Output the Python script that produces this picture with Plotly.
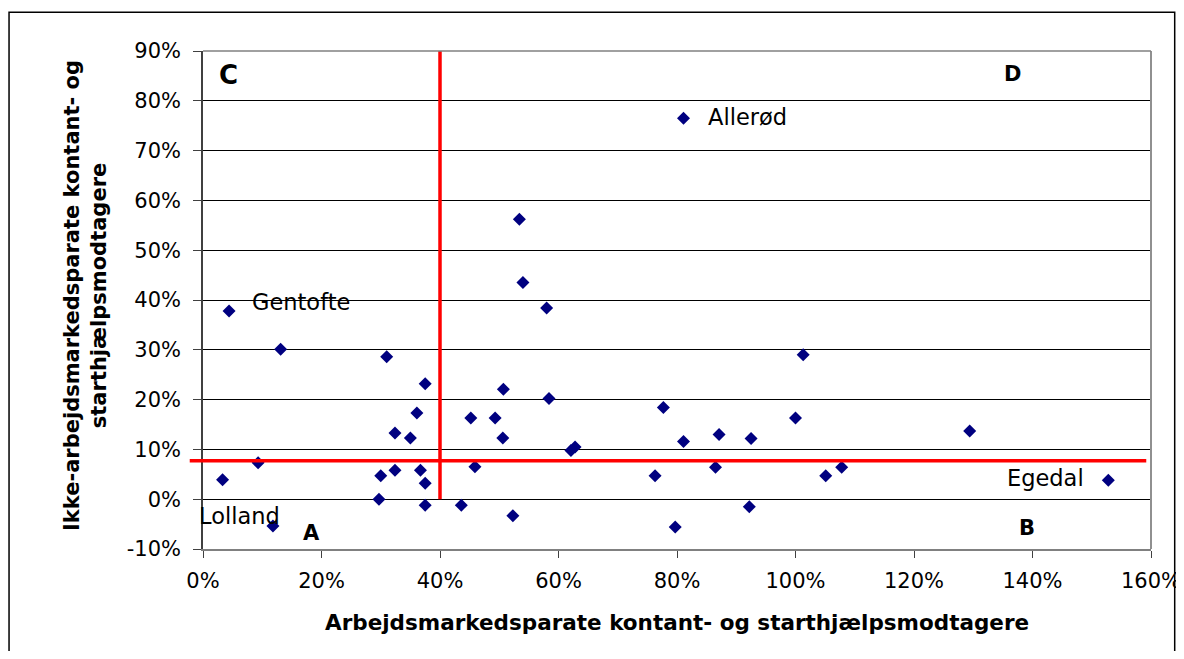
import plotly.graph_objects as go

# data (percent)
x_vals = [4.4, 13.1, 31.0, 37.5, 36.1, 32.4, 35.0, 45.2, 9.3, 3.3, 30.0, 32.4, 36.7, 37.5, 29.7,
          37.5, 43.6, 45.9, 11.8, 53.4, 54.0, 58.0, 50.7, 58.4, 49.3, 50.6, 62.1, 62.8, 52.3,
          77.7, 81.1, 76.3, 79.7, 87.1, 92.5, 101.3, 100.0, 86.5, 105.1, 107.8, 92.2, 129.4,
          152.8, 81.1]
y_vals = [37.8, 30.1, 28.6, 23.2, 17.3, 13.3, 12.3, 16.3, 7.3, 3.9, 4.7, 5.8, 5.8, 3.2, 0.0,
          -1.2, -1.2, 6.5, -5.4, 56.2, 43.5, 38.4, 22.1, 20.2, 16.3, 12.3, 9.8, 10.5, -3.3,
          18.4, 11.6, 4.7, -5.6, 13.0, 12.2, 29.0, 16.3, 6.4, 4.7, 6.4, -1.5, 13.7,
          3.8, 76.5]
named_names = ["Gentofte", "Allerød", "Lolland", "Egedal"]
named_x = [4.4, 81.1, 11.8, 152.8]
named_y = [37.8, 76.5, -5.4, 3.8]
x_threshold = 40
y_threshold = 7.7
x_ticks = [0, 20, 40, 60, 80, 100, 120, 140, 160]
y_ticks = [-10, 0, 10, 20, 30, 40, 50, 60, 70, 80, 90]
x_range = [0, 160]
y_range = [-10, 90]
quadrant_letters = ["C", "D", "A", "B"]

FONT = "DejaVu Sans, Liberation Sans, Arial, sans-serif"

fig = go.Figure()
fig.add_trace(go.Scatter(
    x=x_vals, y=y_vals, mode="markers",
    marker=dict(symbol="diamond", size=10, color="#000080", line=dict(width=0)),
    showlegend=False, cliponaxis=False))

# threshold lines
fig.add_shape(type="line", xref="x", yref="y", x0=x_threshold, x1=x_threshold, y0=0, y1=y_range[1],
              line=dict(color="#ff0000", width=3.5))
yp = (y_threshold - y_range[0]) / (y_range[1] - y_range[0])
fig.add_shape(type="line", xref="paper", yref="paper", x0=-0.014, x1=0.995, y0=yp, y1=yp,
              line=dict(color="#ff0000", width=3.5))

# name labels
label_pos = [dict(xshift=21, yshift=9, xanchor="left"),
             dict(xshift=22, yshift=1, xanchor="left"),
             dict(xshift=9, yshift=10, xanchor="right"),
             dict(xshift=-22, yshift=2, xanchor="right")]
for name, nx, ny, lp in zip(named_names, named_x, named_y, label_pos):
    fig.add_annotation(x=nx, y=ny, text=name, showarrow=False, yanchor="middle",
                       font=dict(family=FONT, size=22.5, color="black"), **lp)

quad_pos = [(0.0274, 0.952, 26), (0.854, 0.954, 21), (0.114, 0.032, 21), (0.869, 0.042, 21)]
for q, (qx, qy, qs) in zip(quadrant_letters, quad_pos):
    fig.add_annotation(xref="paper", yref="paper", x=qx, y=qy, text=f"<b>{q}</b>", showarrow=False,
                       xanchor="center", yanchor="middle", font=dict(family=FONT, size=qs, color="black"))

# axis titles
fig.add_annotation(xref="paper", yref="paper", x=0.5, y=-0.1466,
                   text="<b>Arbejdsmarkedsparate kontant- og starthjælpsmodtagere</b>",
                   showarrow=False, xanchor="center", yanchor="middle",
                   font=dict(family=FONT, size=21.5, color="black"))
fig.add_annotation(xref="paper", yref="paper", x=-0.1245, y=0.51,
                   text="<b>Ikke-arbejdsmarkedsparate kontant- og<br>starthjælpsmodtagere</b>",
                   showarrow=False, xanchor="center", yanchor="middle", textangle=-90,
                   font=dict(family=FONT, size=21, color="black"))

# outer border
fig.add_shape(type="rect", xref="paper", yref="paper", x0=-0.2046, x1=1.025, y0=-0.25, y1=1.078,
              line=dict(color="black", width=1.5), layer="below")

fig.update_layout(
    width=1176, height=643, autosize=False,
    margin=dict(l=195, r=33, t=43, b=102, autoexpand=False),
    paper_bgcolor="white", plot_bgcolor="white",
    font=dict(family=FONT, size=21, color="black"),
    xaxis=dict(range=x_range, tickvals=x_ticks, ticktext=[f"{v}%" for v in x_ticks],
               showgrid=False, zeroline=False, showline=True, linecolor="#808080", linewidth=1.5,
               mirror=False, ticks="outside", ticklen=7, tickcolor="#404040",
               ticklabelstandoff=5, automargin=False,
               tickfont=dict(family=FONT, size=21)),
    yaxis=dict(range=y_range, tickvals=y_ticks, ticktext=[f"{v}%" for v in y_ticks],
               showgrid=True, gridcolor="black", gridwidth=1, zeroline=False,
               showline=True, linecolor="#404040", linewidth=1.5, mirror=False,
               ticks="outside", ticklen=8, tickcolor="#404040",
               ticklabelstandoff=8, automargin=False,
               tickfont=dict(family=FONT, size=21)),
)
# plot area right/top border in gray
fig.add_shape(type="line", xref="paper", yref="paper", x0=1, x1=1, y0=0, y1=1,
              line=dict(color="#909090", width=2))
fig.add_shape(type="line", xref="paper", yref="paper", x0=0, x1=1, y0=1, y1=1,
              line=dict(color="#808080", width=1.5))

fig.write_html("out.html")
